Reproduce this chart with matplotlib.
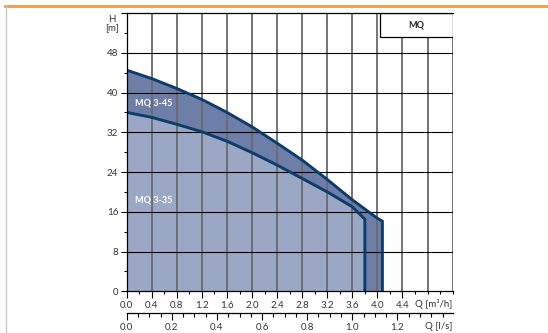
import matplotlib
matplotlib.use("Agg")
import matplotlib.pyplot as plt
from matplotlib.ticker import MultipleLocator, FixedLocator
from matplotlib.lines import Line2D
from matplotlib.patches import Rectangle

plt.rcParams['font.family'] = ['Lato', 'DejaVu Sans']

# ---- data ----
q_45 = [0.0, 0.4, 0.8, 1.2, 1.6, 2.0, 2.4, 2.8, 3.2, 3.6, 4.0, 4.08]
h_45 = [44.5, 42.8, 40.8, 38.6, 36.0, 33.1, 29.8, 26.4, 22.5, 18.4, 14.7, 14.1]
q_35 = [0.0, 0.4, 0.8, 1.2, 1.6, 2.0, 2.4, 2.8, 3.2, 3.6, 3.8]
h_35 = [36.0, 35.0, 33.6, 32.1, 30.2, 27.9, 25.4, 22.7, 20.0, 17.0, 14.5]
label_45 = "MQ 3-45"
label_35 = "MQ 3-35"
box_title = "MQ"
y_ticks = [0, 8, 16, 24, 32, 40, 48, 56]
y_labels = ["0", "8", "16", "24", "32", "40", "48", ""]
x_ticks = [0.0, 0.4, 0.8, 1.2, 1.6, 2.0, 2.4, 2.8, 3.2, 3.6, 4.0, 4.4]
x_labels = ["0.0", "0.4", "0.8", "1.2", "1.6", "2.0", "2.4", "2.8", "3.2", "3.6", "4.0", "4.4"]
ls_ticks = [0.0, 0.2, 0.4, 0.6, 0.8, 1.0, 1.2]
ls_labels = ["0.0", "0.2", "0.4", "0.6", "0.8", "1.0", "1.2"]
q_max = 5.2
h_max = 56

light = '#9aa8c5'
dark = '#6d7fa8'
navy = '#0b3c6c'
tick_col = '#333333'
fs = 7

W, H = 548, 333
fig = plt.figure(figsize=(W / 100, H / 100), dpi=100)

def fx(px):
    return px / W

def fy(py):
    return 1 - py / H

ax = fig.add_axes([fx(126.7), fy(291.3), fx(452.6) - fx(126.7), fy(13.0) - fy(291.3)])
ax.set_xlim(0, q_max)
ax.set_ylim(0, h_max)

# fills
ax.fill_between(q_45 + [q_45[-1]], h_45 + [0], 0, color=dark, lw=0, zorder=1)
ax.fill_between(q_35 + [q_35[-1]], h_35 + [0], 0, color=light, lw=0, zorder=2)

# grid
for q in [0.4 * i for i in range(1, 14)]:
    ax.axvline(q, color='#6a6a6a', lw=1.3, zorder=3)
for h in y_ticks[1:-1]:
    ax.axhline(h, color='black', lw=0.8, zorder=3)

# curves
ax.plot(q_45 + [q_45[-1]], h_45 + [0], color=navy, lw=2.1, zorder=5, solid_joinstyle='miter')
ax.plot(q_35 + [q_35[-1]], h_35 + [0], color=navy, lw=2.1, zorder=5, solid_joinstyle='miter')

ax.text(0.13, 37.9, label_45, color='white', fontsize=6.5, fontweight='bold', va='center', ha='left', zorder=6)
ax.text(0.13, 18.3, label_35, color='white', fontsize=6.5, fontweight='bold', va='center', ha='left', zorder=6)

# MQ box
x0 = 4.04
y0 = 51.1
ax.add_patch(Rectangle((x0, y0), q_max - x0, h_max - y0, facecolor='white', edgecolor='black', lw=0.9, zorder=7))
ax.text((x0 + q_max) / 2, (y0 + h_max) / 2, box_title, fontsize=6.5, fontweight='bold', ha='center', va='center', color='#222222', zorder=8)

# spines
for s in ['left', 'bottom', 'top']:
    ax.spines[s].set_color('black')
    ax.spines[s].set_linewidth(0.9)
    ax.spines[s].set_zorder(9)
ax.spines['right'].set_visible(False)

ax.set_yticks(y_ticks)
ax.set_yticklabels(y_labels)
ax.yaxis.set_minor_locator(MultipleLocator(4))
ax.set_xticks(x_ticks)
ax.set_xticklabels(x_labels)
ax.xaxis.set_minor_locator(FixedLocator([0.2 * i for i in range(0, 27)]))
ax.tick_params(axis='both', which='major', direction='out', length=4, width=0.8, labelsize=fs, colors='black', labelcolor=tick_col, pad=2)
ax.tick_params(axis='both', which='minor', direction='out', length=2.5, width=0.8, colors='black')
ax.tick_params(axis='x', which='major', length=5)
ax.text(q_max, -2.6, "Q [m³/h]", fontsize=fs, color=tick_col, ha='right', va='center')
ax.text(-0.12, 53.8, "H\n[m]", fontsize=7, color=tick_col, ha='right', va='center', linespacing=1.05, multialignment='center')

# second axis (l/s)
ax2 = fig.add_axes([fx(126.7), fy(313.3), fx(452.6) - fx(126.7), 0.0001])
ax2.set_xlim(0, q_max / 3.6)
ax2.set_ylim(0, 1)
ax2.patch.set_visible(False)
for s in ['left', 'right', 'top']:
    ax2.spines[s].set_visible(False)
ax2.spines['bottom'].set_linewidth(0.9)
ax2.set_yticks([])
ax2.set_xticks(ls_ticks)
ax2.set_xticklabels(ls_labels)
ax2.xaxis.set_minor_locator(MultipleLocator(0.05))
ax2.tick_params(axis='x', which='major', direction='out', length=5, width=0.8, labelsize=fs, labelcolor=tick_col, pad=2)
ax2.tick_params(axis='x', which='minor', direction='out', length=3, width=0.8)
fig.text(fx(452.6), fy(326.5), "Q [l/s]", fontsize=fs, color=tick_col, ha='right', va='center')

# frame decorations
fig.add_artist(Line2D([fx(5), 1], [fy(6), fy(6)], color='#eea357', lw=2.2))
fig.add_artist(Line2D([fx(5.5), fx(5.5)], [fy(6), 0], color='#c8c8c8', lw=1.0))

fig.savefig('out.png', dpi=100)
